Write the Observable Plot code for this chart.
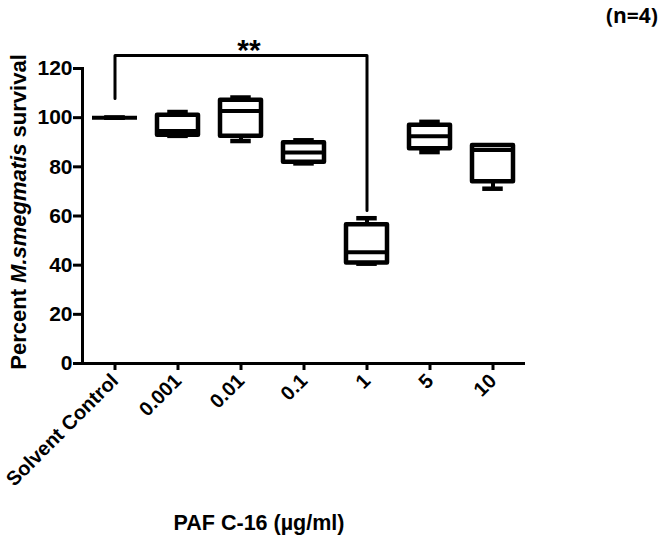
<!DOCTYPE html>
<html><head><meta charset="utf-8">
<script src="https://cdn.jsdelivr.net/npm/d3@7"></script>
<script src="https://cdn.jsdelivr.net/npm/@observablehq/plot@0.6"></script>
<style>body{margin:0;background:#fff} svg{display:block}</style>
</head><body><div id="chart"></div>
<script>
const categories = ["Solvent Control", "0.001", "0.01", "0.1", "1", "5", "10"];
const minV = [100, 92.6, 90.5, 81.4, 40.6, 86.0, 71.1];
const q1V  = [100, 92.8, 92.4, 81.9, 40.9, 87.4, 73.9];
const medV = [100, 94.6, 102.7, 85.8, 45.3, 92.4, 86.8];
const q3V  = [100, 101.0, 107.1, 89.8, 56.4, 96.9, 88.7];
const maxV = [100, 102.3, 108.2, 90.8, 59.1, 98.3, 88.7];
const yTicks = [0, 20, 40, 60, 80, 100, 120];
const bracketCats = ["Solvent Control", "Solvent Control", "1", "1"];
const bracketY = [107.8, 125.3, 125.3, 62.2];
const sigLabel = "**";
const sigCat = "0.01";
const sigY = 127.5;

const rows = categories.map((c, i) => ({cat: c, min: minV[i], q1: q1V[i], med: medV[i], q3: q3V[i], max: maxV[i]}));
const bracket = bracketCats.map((c, i) => ({cat: c, y: bracketY[i]}));
const sig = [{cat: sigCat, y: sigY, label: sigLabel}];

const plot = Plot.plot({
  width: 666, height: 540,
  marginLeft: 82, marginRight: 141, marginTop: 68, marginBottom: 177,
  style: {fontFamily: "'Liberation Sans', Arial, sans-serif", background: "white", color: "black"},
  x: {type: "band", domain: categories, paddingInner: 0.35, paddingOuter: 0.175, label: null},
  y: {domain: [0, 120], label: null},
  marks: [
    Plot.ruleX(rows, {x: "cat", y1: "min", y2: "q1", stroke: "black", strokeWidth: 4}),
    Plot.ruleX(rows, {x: "cat", y1: "q3", y2: "max", stroke: "black", strokeWidth: 4}),
    Plot.tickY(rows, {x: "cat", y: "min", insetLeft: 12.5, insetRight: 12.5, stroke: "black", strokeWidth: 4.5, strokeLinecap: "square"}),
    Plot.tickY(rows, {x: "cat", y: "max", insetLeft: 12.5, insetRight: 12.5, stroke: "black", strokeWidth: 4.5, strokeLinecap: "square"}),
    Plot.barY(rows, {x: "cat", y1: "q1", y2: "q3", fill: "white", stroke: "black", strokeWidth: 4.5, strokeLinejoin: "round"}),
    Plot.tickY(rows, {x: "cat", y: "med", stroke: "black", strokeWidth: 4, strokeLinecap: "square"}),
    Plot.line(bracket, {x: "cat", y: "y", stroke: "black", strokeWidth: 3}),
    Plot.text(sig, {x: "cat", y: "y", text: "label", dx: 8, fontSize: 30, fontWeight: "bold"}),
    Plot.axisY(yTicks, {tickSize: 9, tickPadding: 1, fontSize: 21, fontWeight: "bold", strokeWidth: 3, label: null}),
    Plot.axisX({tickRotate: -45, tickSize: 7, tickPadding: 7, fontSize: 20, fontWeight: "bold", strokeWidth: 3, label: null}),
    Plot.ruleY([0], {stroke: "black", strokeWidth: 3}),
    Plot.frame({anchor: "left", stroke: "black", strokeWidth: 3})
  ]
});

const svg = d3.select(plot);
const yt = svg.append("text")
  .attr("transform", "translate(26,212) rotate(-90)")
  .attr("text-anchor", "middle")
  .attr("font-size", 22).attr("font-weight", "bold").attr("fill", "black");
yt.append("tspan").text("Percent ");
yt.append("tspan").attr("font-style", "italic").text("M.smegmatis");
yt.append("tspan").text(" survival");

svg.append("text")
  .attr("x", 259).attr("y", 530)
  .attr("text-anchor", "middle")
  .attr("font-size", 21.5).attr("font-weight", "bold").attr("fill", "black")
  .text("PAF C-16 (µg/ml)");

svg.append("text")
  .attr("x", 658).attr("y", 23)
  .attr("text-anchor", "end")
  .attr("font-family", "'Open Sans', sans-serif")
  .attr("font-size", 21).attr("font-weight", "bold").attr("fill", "black")
  .text("(n=4)");

document.getElementById("chart").appendChild(plot);
</script>
</body></html>
